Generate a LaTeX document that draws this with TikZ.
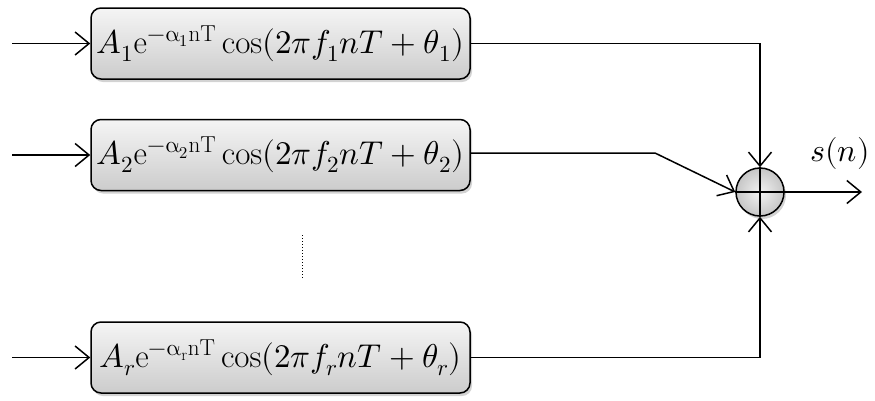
\documentclass[tikz,border=0pt]{standalone}
\usepackage{unicode-math}
\usetikzlibrary{arrows.meta,shadows,calc}
\begin{document}
\begin{tikzpicture}[x=1pt,y=-1pt,
  blk/.style={draw,line width=1.5pt,rounded corners=10pt,minimum width=379pt,minimum height=71pt,
    top color=gray!8,bottom color=gray!40,inner sep=0pt,
    drop shadow={shadow xshift=2pt,shadow yshift=-3pt,opacity=0.35},
    font=\fontsize{33}{38}\selectfont},
  sumc/.style={circle,draw,line width=1.5pt,minimum size=48pt,inner sep=0pt,
    inner color=gray!10,outer color=gray!45,
    drop shadow={shadow xshift=2pt,shadow yshift=-3pt,opacity=0.35}},
  conn/.style={line width=1.5pt},
  arr/.style={conn,-{Straight Barb[length=14pt,width=23pt,line width=1.5pt]}},
  lbl/.style={font=\fontsize{32}{38}\selectfont}]
\useasboundingbox (0,0) rectangle (875,400);
\node[blk] (b1) at (280.5,43.5) {$A_1\mathrm{e}^{-\upalpha_1\mathrm{nT}}\cos(2\pi f_1nT+\theta_1)$};
\node[blk] (b2) at (280.5,155) {$A_2\mathrm{e}^{-\upalpha_2\mathrm{nT}}\cos(2\pi f_2nT+\theta_2)$};
\node[blk] (b3) at (280.5,357.5) {$A_r\mathrm{e}^{-\upalpha_\mathrm{r}\mathrm{nT}}\cos(2\pi f_rnT+\theta_r)$};
\node[sumc] (s) at (760,192) {};
\draw[line width=1.3pt] (s.north) -- (s.south) (s.west) -- (s.east);
\coordinate (i1) at (12,43.5);
\coordinate (i2) at (12,155);
\coordinate (i3) at (12,357.5);
\draw[arr] (i1) -- (b1.west);
\draw[arr] (i2) -- (b2.west);
\draw[arr] (i3) -- (b3.west);
\coordinate (k2) at (655,153);
\coordinate (o) at (862,192);
\draw[arr] (b1.east) -| (s.north);
\draw[arr] (b2.east |- k2) -- (k2) -- (s.west);
\draw[arr] (b3.east) -| (s.south);
\draw[arr] (s.east) -- (o);
\node[lbl] (sn) at (840,153) {$s(n)$};
\coordinate (d1) at (302,235);
\coordinate (d2) at (302,279);
\draw[line width=1pt,dotted] (d1) -- (d2);
\end{tikzpicture}
\end{document}
